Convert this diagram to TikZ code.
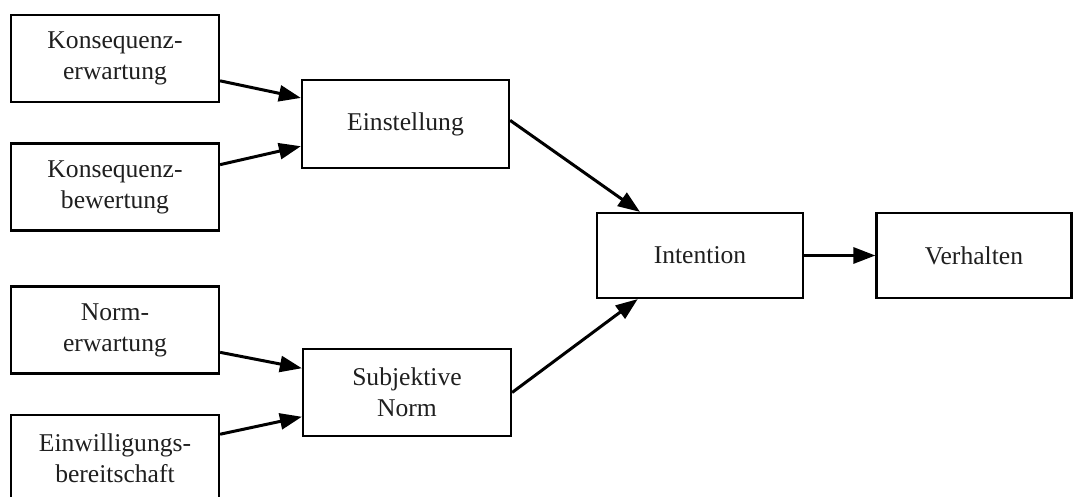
\documentclass[tikz,border=0pt]{standalone}
\usepackage{fontspec}
\setmainfont{Liberation Serif}
\usetikzlibrary{arrows.meta}
\begin{document}
\begin{tikzpicture}[x=0.5pt,y=-0.5pt,
  box/.style={draw, line width=1.1pt, minimum width=104pt, minimum height=43.5pt,
    inner sep=0pt, align=center, text=black!88,
    font=\fontsize{12.8}{15.5}\selectfont},
  conn/.style={line width=1.5pt, -{Triangle[length=11pt,width=8pt]}}]
\useasboundingbox (0,0) rectangle (1073,497);
\node[box] (ke) at (115,58.5) {Konsequenz-\\erwartung};
\node[box] (kb) at (115,187) {Konsequenz-\\bewertung};
\node[box] (ne) at (115,330) {Norm-\\erwartung};
\node[box] (eb) at (115,458.5) {Einwilligungs-\\bereitschaft};
\node[box, minimum width=103.5pt, minimum height=44pt] (es) at (405.5,124) {Einstellung};
\node[box] (sn) at (407,392.5) {Subjektive\\Norm};
\node[box, minimum width=103pt, minimum height=42.5pt] (in) at (700,255.5) {Intention};
\node[box, minimum width=97.5pt, minimum height=42.5pt] (vh) at (974,255.5) {Verhalten};
\draw[conn] (ke.-12.2) -- (es.166.4);
\draw[conn] (kb.12.5) -- (es.192.5);
\draw[conn] (ne.-12.5) -- (sn.167.3);
\draw[conn] (eb.13.2) -- (sn.193.3);
\draw[conn] (es.2.2) -- (in.144.7);
\draw[conn] (sn.-0.8) -- (in.215.3);
\draw[conn] (in.east) -- (vh.west);
\end{tikzpicture}
\end{document}
